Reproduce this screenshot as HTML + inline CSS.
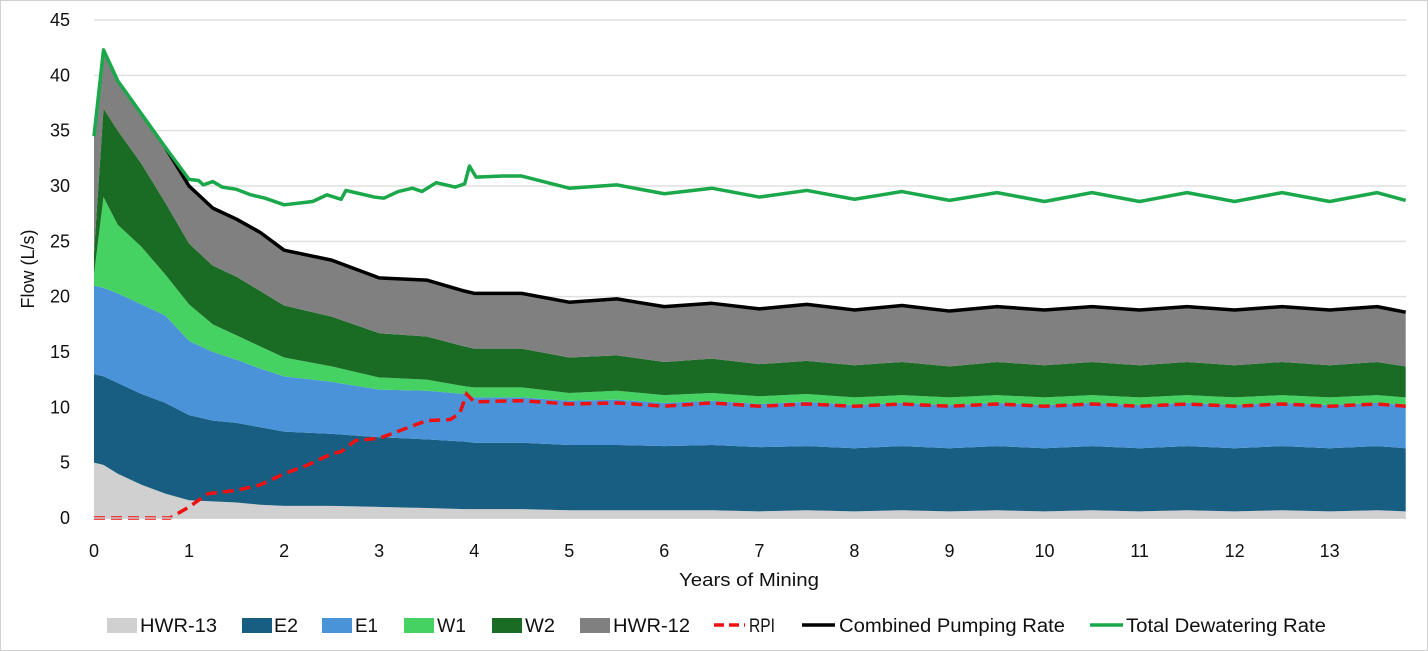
<!DOCTYPE html>
<html><head><meta charset="utf-8"><style>
html,body{margin:0;padding:0;background:#fff}
svg{display:block;font-family:"Liberation Sans",sans-serif}
</style></head><body>
<svg id="chart" width="1428" height="651" viewBox="0 0 1428 651">
<rect x="0.5" y="0.5" width="1427" height="650" fill="#fff" stroke="#d0d0d0"/>
<g id="grid"></g><g id="areas"></g><g id="lines"></g><g id="axes"></g><g id="legend"></g>
</svg>
<script>
const xs     = [0,0.1,0.25,0.5,0.75,1,1.25,1.5,1.75,2,2.5,3,3.5,3.9,4,4.5,5,5.5,6,6.5,7,7.5,8,8.5,9,9.5,10,10.5,11,11.5,12,12.5,13,13.5,13.8];
const hwr13  = [5.0,4.8,4.0,3.0,2.2,1.6,1.5,1.4,1.2,1.1,1.1,1.0,0.9,0.8,0.8,0.8,0.7,0.7,0.7,0.7,0.6,0.7,0.6,0.7,0.6,0.7,0.6,0.7,0.6,0.7,0.6,0.7,0.6,0.7,0.6];
const e2     = [8.0,8.0,8.2,8.2,8.2,7.7,7.3,7.2,7.0,6.7,6.5,6.3,6.2,6.1,6.0,6.0,5.9,5.9,5.8,5.9,5.8,5.8,5.7,5.8,5.7,5.8,5.7,5.8,5.7,5.8,5.7,5.8,5.7,5.8,5.7];
const e1     = [8.0,8.0,8.1,8.1,7.9,6.7,6.2,5.7,5.3,5.0,4.7,4.3,4.4,4.3,4.1,4.1,4.0,4.1,3.9,4.0,3.9,4.0,3.9,3.9,3.9,3.9,3.9,3.9,3.9,3.9,3.9,3.9,3.9,3.9,3.9];
const w1     = [1.0,8.2,6.2,5.2,3.7,3.3,2.5,2.2,2.0,1.7,1.4,1.1,1.0,0.7,0.9,0.9,0.7,0.8,0.7,0.7,0.7,0.7,0.7,0.7,0.7,0.7,0.7,0.7,0.7,0.7,0.7,0.7,0.7,0.7,0.7];
const w2     = [2.0,8.0,8.5,7.5,6.5,5.5,5.3,5.3,5.0,4.7,4.5,4.0,3.9,3.6,3.5,3.5,3.2,3.2,3.0,3.1,2.9,3.0,2.9,3.0,2.8,3.0,2.9,3.0,2.9,3.0,2.9,3.0,2.9,3.0,2.8];
const hwr12  = [10.5,5.0,4.5,4.5,5.0,5.2,5.2,5.2,5.3,5.0,5.1,5.0,5.1,5.0,5.0,5.0,5.0,5.1,5.0,5.0,5.0,5.1,5.0,5.1,5.0,5.0,5.0,5.0,5.0,5.0,5.0,5.0,5.0,5.0,4.9];
const totalX = [0,0.1,0.25,0.5,0.75,1,1.1,1.15,1.25,1.35,1.5,1.65,1.8,2.0,2.2,2.3,2.45,2.6,2.65,2.8,2.95,3.05,3.2,3.35,3.45,3.6,3.8,3.9,3.95,4.02,4.3,4.5,5,5.5,6,6.5,7,7.5,8,8.5,9,9.5,10,10.5,11,11.5,12,12.5,13,13.5,13.8];
const total  = [34.5,42.3,39.5,36.5,33.5,30.6,30.5,30.1,30.4,29.9,29.7,29.2,28.9,28.3,28.5,28.6,29.2,28.8,29.6,29.3,29.0,28.9,29.5,29.8,29.5,30.3,29.9,30.2,31.8,30.8,30.9,30.9,29.8,30.1,29.3,29.8,29.0,29.6,28.8,29.5,28.7,29.4,28.6,29.4,28.6,29.4,28.6,29.4,28.6,29.4,28.7];
const rpiX   = [0,0.8,1.0,1.2,1.5,1.75,2.0,2.25,2.5,2.6,2.75,3.0,3.25,3.5,3.75,3.85,3.92,4.0,4.5,5,5.5,6,6.5,7,7.5,8,8.5,9,9.5,10,10.5,11,11.5,12,12.5,13,13.5,13.8];
const rpiY   = [0,0,1.0,2.2,2.5,3.0,4.0,4.8,5.8,6.0,7.0,7.2,8.0,8.8,8.9,9.5,11.2,10.5,10.6,10.3,10.4,10.1,10.4,10.1,10.3,10.1,10.3,10.1,10.3,10.1,10.3,10.1,10.3,10.1,10.3,10.1,10.3,10.1];
const yTicks = [0,5,10,15,20,25,30,35,40,45];
const xTicks = [0,1,2,3,4,5,6,7,8,9,10,11,12,13];
const seriesNames = ["HWR-13","E2","E1","W1","W2","HWR-12"];

const NS="http://www.w3.org/2000/svg";
const X0=94,PX=95.05,Y0=518,PY=(518-20)/45;
const sx=v=>X0+v*PX, sy=v=>Y0-v*PY;
function mk(tag,attrs,parent){const e=document.createElementNS(NS,tag);for(const k in attrs)e.setAttribute(k,attrs[k]);parent.appendChild(e);return e;}
const G=id=>document.getElementById(id);

yTicks.forEach(t=>{
  const l=mk('line',{x1:X0,x2:1406,y1:sy(t),y2:sy(t),stroke:'#e0e0e0','stroke-width':1.5},G('grid'));
  
  
  const tx=mk('text',{x:70,y:sy(t)+6,'text-anchor':'end','font-size':18,fill:'#111'},G('axes'));
  tx.textContent=t;
  
  
});
xTicks.forEach(t=>{
  const tx=mk('text',{x:sx(t),y:557,'text-anchor':'middle','font-size':18,fill:'#111'},G('axes'));
  tx.textContent=t;
  
  
});
const ax=mk('line',{x1:X0,x2:1406,y1:Y0,y2:Y0,stroke:'#d0d0d0','stroke-width':1.5},G('axes'));


const xt=mk('text',{x:749,y:586,'text-anchor':'middle','font-size':18,fill:'#111',textLength:140,lengthAdjust:'spacingAndGlyphs'},G('axes'));
xt.textContent='Years of Mining';


const yt=mk('text',{x:0,y:0,'text-anchor':'middle','font-size':18,fill:'#111',transform:'translate(34,269) rotate(-90)'},G('axes'));
yt.textContent='Flow (L/s)';



const comps=[hwr13,e2,e1,w1,w2,hwr12];
const colors=['#d0d0d0','#175e82','#4a93d8','#45d262','#1a6c25','#808080'];
let base=xs.map(()=>0);
comps.forEach((c,i)=>{
  const top=base.map((b,j)=>b+c[j]);
  let d='M'+xs.map((x,j)=>sx(x)+','+sy(top[j])).join(' L');
  for(let j=xs.length-1;j>=0;j--) d+=' L'+sx(xs[j])+','+sy(base[j]);
  d+='Z';
  const p=mk('path',{d:d,fill:colors[i]},G('areas'));
  
  
  base=top;
});
const combPath='M'+xs.map((x,j)=>sx(x)+','+sy(base[j])).slice(4).join(' L');
const cl=mk('path',{d:combPath,fill:'none',stroke:'#000','stroke-width':3.5,'stroke-linejoin':'round'},G('lines'));


const rl=mk('path',{d:'M'+rpiX.map((x,j)=>sx(x)+','+sy(rpiY[j])).join(' L'),fill:'none',stroke:'#ee1111','stroke-width':3.5,'stroke-dasharray':'11,6'},G('lines'));


const tl=mk('path',{d:'M'+totalX.map((x,j)=>sx(x)+','+sy(total[j])).join(' L'),fill:'none',stroke:'#1aa84a','stroke-width':3.5,'stroke-linejoin':'round'},G('lines'));



const legItems=[
 {n:'HWR-13',t:'box',c:colors[0],x:107,tx:140,w:77},
 {n:'E2',t:'box',c:colors[1],x:242,tx:274,w:24},
 {n:'E1',t:'box',c:colors[2],x:322,tx:355,w:23},
 {n:'W1',t:'box',c:colors[3],x:404,tx:437,w:29},
 {n:'W2',t:'box',c:colors[4],x:492,tx:525,w:30},
 {n:'HWR-12',t:'box',c:colors[5],x:580,tx:613,w:77},
 {n:'RPI',t:'dash',c:'#ee1111',x:714,tx:749,w:26},
 {n:'Combined Pumping Rate',t:'line',c:'#000',x:802,tx:839,w:226},
 {n:'Total Dewatering Rate',t:'line',c:'#1aa84a',x:1090,tx:1126,w:200}
];
legItems.forEach(it=>{
  const g=mk('g',{},G('legend'));
  
  
  if(it.t==='box') mk('rect',{x:it.x,y:618,width:30,height:15,fill:it.c},g);
  else if(it.t==='dash') mk('line',{x1:it.x,x2:it.x+31,y1:625,y2:625,stroke:it.c,'stroke-width':3.5,'stroke-dasharray':'10,5'},g);
  else mk('line',{x1:it.x,x2:it.x+33,y1:625,y2:625,stroke:it.c,'stroke-width':3.5},g);
  const tx=mk('text',{x:it.tx,y:632,'font-size':19,fill:'#111',textLength:it.w,lengthAdjust:'spacingAndGlyphs'},g);
  tx.textContent=it.n;
});
</script>
</body></html>
